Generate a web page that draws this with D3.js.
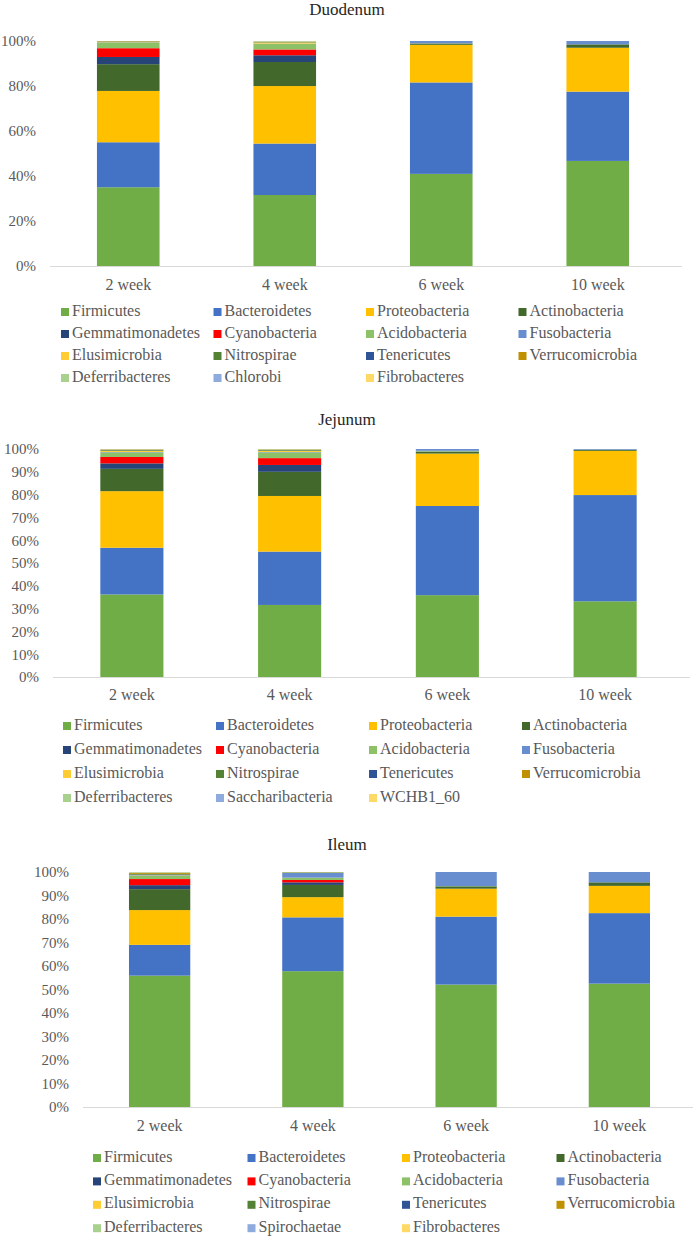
<!DOCTYPE html>
<html>
<head>
<meta charset="utf-8">
<script src="https://cdn.jsdelivr.net/npm/d3@7"></script>
<style>
  body { margin: 0; background: #fff; }
  svg { display: block; font-family: "Liberation Serif", "Tinos", "DejaVu Serif", serif; }
</style>
</head>
<body>
<svg id="chart" width="693" height="1237"></svg>
<script>
// ---------------- DATA ----------------
const weeks = ["2 week", "4 week", "6 week", "10 week"];

const duodenumPhyla = ["Firmicutes","Bacteroidetes","Proteobacteria","Actinobacteria","Gemmatimonadetes","Cyanobacteria","Acidobacteria","Fusobacteria","Elusimicrobia","Nitrospirae","Tenericutes","Verrucomicrobia","Deferribacteres","Chlorobi","Fibrobacteres"];
const duodenumValues = [
  [35.0, 31.6, 40.9, 46.7],
  [20.0, 22.9, 40.6, 30.8],
  [22.8, 25.6, 16.7, 19.5],
  [11.9, 10.7, 0.6, 1.5],
  [3.2, 3.0, 0.0, 0.0],
  [3.9, 2.6, 0.0, 0.0],
  [2.5, 2.5, 0.1, 0.0],
  [0.1, 0.1, 1.0, 1.5],
  [0.1, 0.5, 0.0, 0.0],
  [0.2, 0.2, 0.0, 0.0],
  [0.05, 0.05, 0.0, 0.0],
  [0.2, 0.1, 0.0, 0.0],
  [0.05, 0.2, 0.0, 0.0],
  [0.0, 0.05, 0.0, 0.0],
  [0.0, 0.05, 0.0, 0.0]
];
const duodenumTicks = [0, 0.2, 0.4, 0.6, 0.8, 1.0];

const jejunumPhyla = ["Firmicutes","Bacteroidetes","Proteobacteria","Actinobacteria","Gemmatimonadetes","Cyanobacteria","Acidobacteria","Fusobacteria","Elusimicrobia","Nitrospirae","Tenericutes","Verrucomicrobia","Deferribacteres","Saccharibacteria","WCHB1_60"];
const jejunumValues = [
  [36.2, 31.6, 35.9, 33.2],
  [20.5, 23.4, 39.1, 46.6],
  [24.8, 24.4, 23.0, 19.4],
  [9.8, 10.6, 0.8, 0.5],
  [2.4, 3.0, 0.1, 0.0],
  [2.8, 3.0, 0.0, 0.0],
  [2.0, 2.5, 0.3, 0.0],
  [0.2, 0.2, 0.8, 0.3],
  [0.5, 0.5, 0.0, 0.0],
  [0.3, 0.3, 0.0, 0.0],
  [0.1, 0.1, 0.0, 0.0],
  [0.2, 0.2, 0.0, 0.0],
  [0.1, 0.2, 0.0, 0.0],
  [0.05, 0.0, 0.0, 0.0],
  [0.05, 0.0, 0.0, 0.0]
];
const jejunumTicks = [0, 0.1, 0.2, 0.3, 0.4, 0.5, 0.6, 0.7, 0.8, 0.9, 1.0];

const ileumPhyla = ["Firmicutes","Bacteroidetes","Proteobacteria","Actinobacteria","Gemmatimonadetes","Cyanobacteria","Acidobacteria","Fusobacteria","Elusimicrobia","Nitrospirae","Tenericutes","Verrucomicrobia","Deferribacteres","Spirochaetae","Fibrobacteres"];
const ileumValues = [
  [55.9, 57.8, 52.1, 52.5],
  [13.1, 22.9, 28.9, 30.0],
  [14.8, 8.6, 11.9, 11.6],
  [8.9, 5.2, 1.0, 1.5],
  [1.7, 1.1, 0.0, 0.0],
  [2.6, 1.0, 0.0, 0.0],
  [1.3, 1.0, 0.1, 0.0],
  [0.3, 2.0, 6.0, 4.4],
  [0.2, 0.0, 0.0, 0.0],
  [0.3, 0.2, 0.0, 0.0],
  [0.1, 0.0, 0.0, 0.0],
  [0.4, 0.1, 0.0, 0.0],
  [0.3, 0.1, 0.0, 0.0],
  [0.05, 0.0, 0.0, 0.0],
  [0.05, 0.0, 0.0, 0.0]
];
const ileumTicks = [0, 0.1, 0.2, 0.3, 0.4, 0.5, 0.6, 0.7, 0.8, 0.9, 1.0];

// ---------------- STYLE ----------------
const phylumColors = {
  Firmicutes: "#70AD47", Bacteroidetes: "#4472C4", Proteobacteria: "#FFC000",
  Actinobacteria: "#43682B", Gemmatimonadetes: "#264478", Cyanobacteria: "#FF0000",
  Acidobacteria: "#8CC168", Fusobacteria: "#698ED0", Elusimicrobia: "#FFCD33",
  Nitrospirae: "#548235", Tenericutes: "#2F5597", Verrucomicrobia: "#BF9000",
  Deferribacteres: "#A9D18E", Chlorobi: "#8FAADC", Fibrobacteres: "#FFD966",
  Saccharibacteria: "#8FAADC", WCHB1_60: "#FFD966", Spirochaetae: "#8FAADC"
};
const FONT = '"Liberation Serif", "Tinos", "DejaVu Serif", serif';

const svg = d3.select("#chart");

function drawChart(cfg) {
  const g = svg.append("g");
  const rows = weeks.map((w, i) => {
    const r = { week: w };
    cfg.phyla.forEach((p, j) => { r[p] = cfg.values[j][i]; });
    return r;
  });
  const stack = d3.stack().keys(cfg.phyla).offset(d3.stackOffsetExpand);
  const series = stack(rows);

  const x = d3.scaleBand().domain(weeks).range([cfg.left, cfg.right])
    .paddingInner(0.6).paddingOuter(0.3);
  const y = d3.scaleLinear().domain([0, 1]).range([cfg.bottom, cfg.top]);

  // title
  g.append("text")
    .attr("x", 347).attr("y", cfg.titleY)
    .attr("text-anchor", "middle").attr("dominant-baseline", "middle")
    .attr("font-size", 17).attr("fill", "#262626")
    .style("font-family", FONT)
    .text(cfg.title);

  // bars
  g.selectAll("g.series").data(series).join("g")
    .attr("fill", d => phylumColors[d.key])
    .selectAll("rect").data(d => d).join("rect")
    .attr("x", d => x(d.data.week))
    .attr("width", x.bandwidth())
    .attr("y", d => y(d[1]))
    .attr("height", d => Math.max(0, y(d[0]) - y(d[1])));

  // y axis labels
  const yAxis = d3.axisLeft(y).tickValues(cfg.ticks)
    .tickFormat(d3.format(".0%")).tickSize(0).tickPadding(0);
  const ya = g.append("g").attr("transform", `translate(${cfg.labelRight},0)`).call(yAxis);
  ya.attr("font-family", null);
  ya.select(".domain").remove();
  ya.selectAll("text").attr("font-size", 15).attr("fill", "#595959")
    .style("font-family", FONT);

  // x axis
  const xAxis = d3.axisBottom(x).tickSize(0).tickPadding(0);
  const xa = g.append("g").attr("transform", `translate(0,${cfg.bottom})`).call(xAxis);
  xa.attr("font-family", null);
  xa.select(".domain").attr("stroke", "#D9D9D9").attr("stroke-width", 1.2)
    .attr("d", `M${cfg.left},0.5H${cfg.axisEnd}`);
  xa.selectAll("text").attr("font-size", 16).attr("fill", "#595959")
    .style("font-family", FONT)
    .attr("dy", null).attr("y", cfg.xLabelY - cfg.bottom)
    .attr("dominant-baseline", "middle");

  // legend
  const lg = g.append("g");
  cfg.phyla.forEach((p, i) => {
    const col = i % 4, row = Math.floor(i / 4);
    const lx = cfg.legendX + col * cfg.legendColW;
    const ly = cfg.legendY + row * cfg.legendRowH;
    lg.append("rect").attr("x", lx).attr("y", ly - 4).attr("width", 8).attr("height", 8)
      .attr("fill", phylumColors[p]);
    lg.append("text").attr("x", lx + 11).attr("y", ly)
      .attr("dominant-baseline", "middle").attr("font-size", 16).attr("fill", "#595959")
      .style("font-family", FONT)
      .text(p);
  });
}

drawChart({
  title: "Duodenum", titleY: 11, phyla: duodenumPhyla, values: duodenumValues, ticks: duodenumTicks,
  left: 50, right: 676, axisEnd: 682, top: 41, bottom: 266, labelRight: 36, xLabelY: 286,
  legendX: 61, legendY: 312, legendColW: 152.5, legendRowH: 22
});
drawChart({
  title: "Jejunum", titleY: 421, phyla: jejunumPhyla, values: jejunumValues, ticks: jejunumTicks,
  left: 53, right: 684, axisEnd: 690, top: 449, bottom: 677, labelRight: 39, xLabelY: 696,
  legendX: 63, legendY: 726, legendColW: 153, legendRowH: 24
});
drawChart({
  title: "Ileum", titleY: 846, phyla: ileumPhyla, values: ileumValues, ticks: ileumTicks,
  left: 83, right: 696, axisEnd: 696, top: 872, bottom: 1107, labelRight: 69, xLabelY: 1127,
  legendX: 93, legendY: 1158, legendColW: 154.5, legendRowH: 23.4
});
</script>
</body>
</html>
